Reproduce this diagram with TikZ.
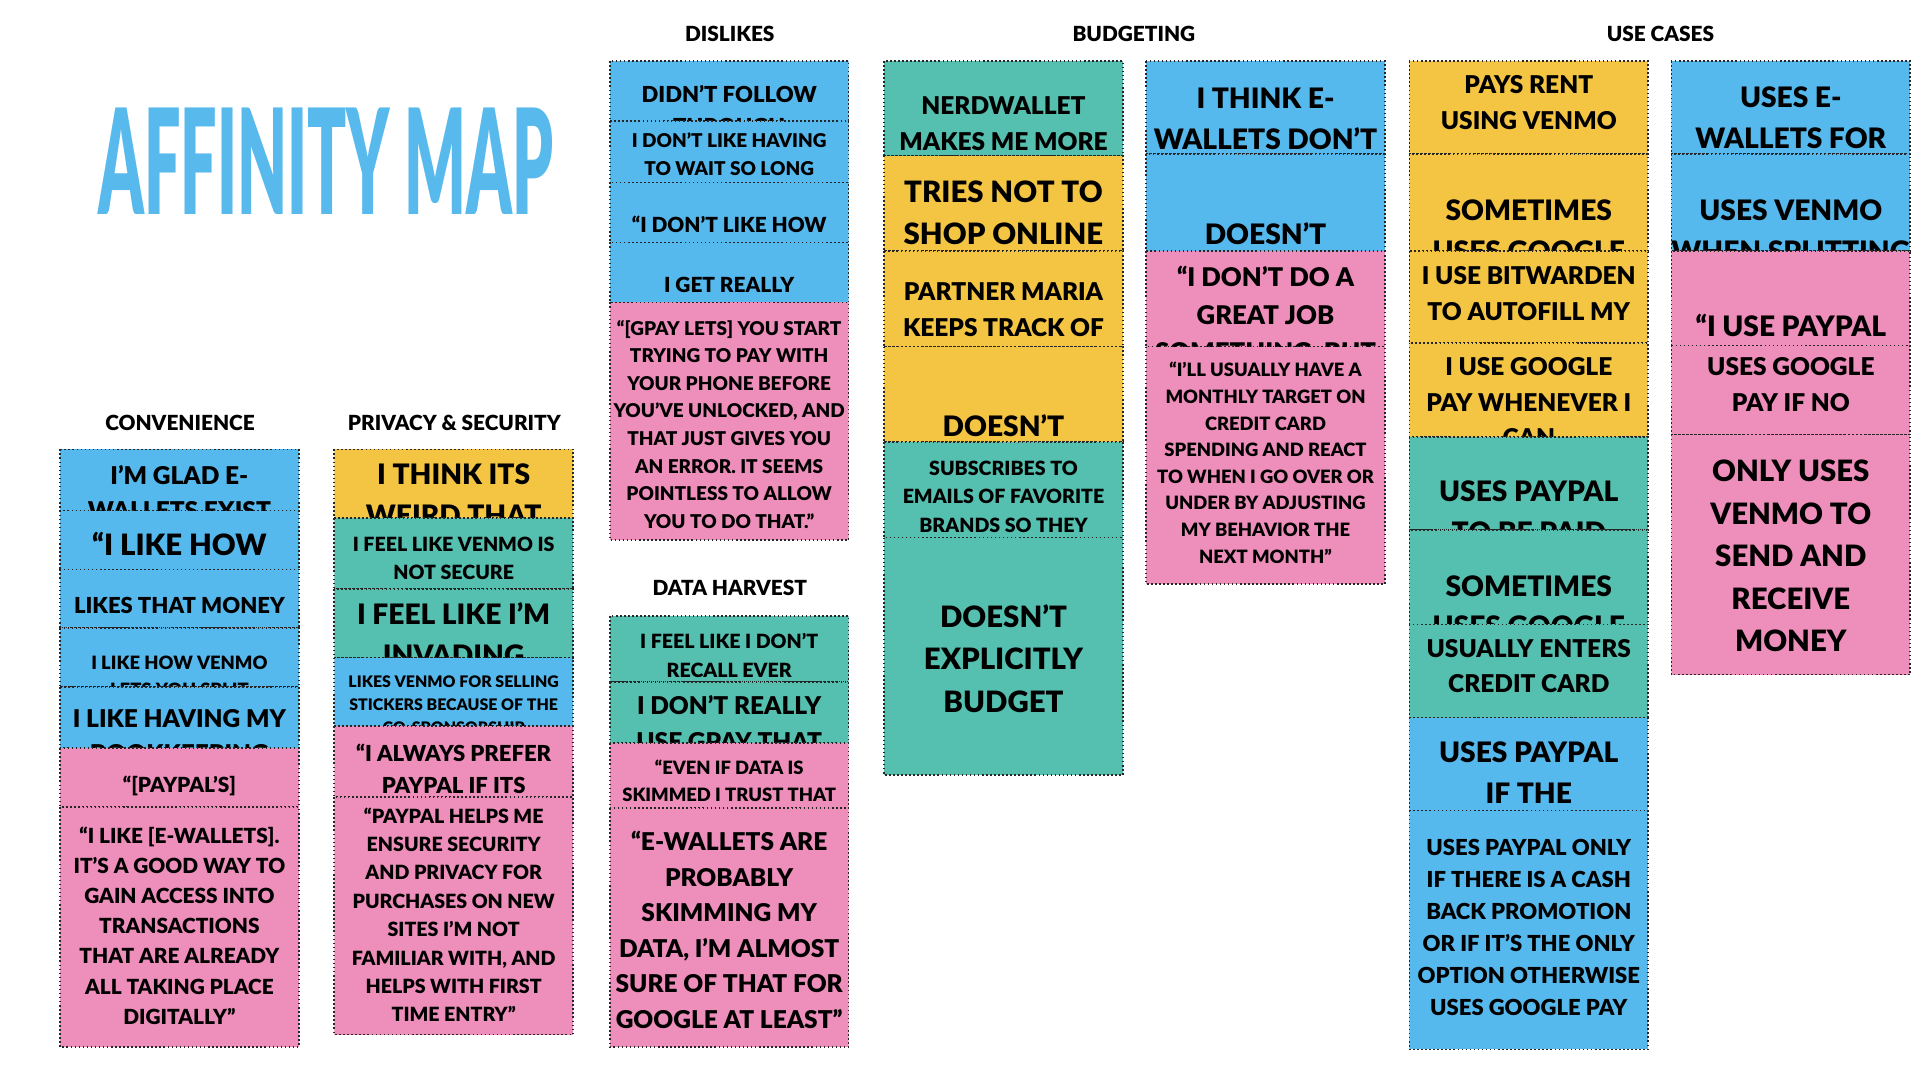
\documentclass[tikz,border=0pt]{standalone}
\usepackage{fontspec}
\setmainfont{Lato}[BoldFont=* Black]
\usepackage{graphicx}
\definecolor{noteblue}{HTML}{56B9EE}
\definecolor{noteyellow}{HTML}{F4C542}
\definecolor{noteteal}{HTML}{55C0B0}
\definecolor{notepink}{HTML}{EE8EBB}
\definecolor{titleblue}{HTML}{58B9EC}
\tikzset{
  notetext/.style={inner sep=0pt, align=center, anchor=north, text=black},
  noteedge/.style={draw=black!85, dotted, line width=1.3pt},
  header/.style={inner sep=0pt, font=\bfseries\fontsize{17pt}{20pt}\selectfont}
}
% #1 name, #2 left x, #3 top y, #4 bottom y, #5 colour, #6 font size, #7 centre of first line, #8 text
\newcommand\sticky[8]{%
  \begin{scope}
    \clip (#2,#3) rectangle ({#2+195},#4);
    \fill[#5] (#2,#3) rectangle ({#2+195},#4);
    \node[notetext, font=\bfseries\fontsize{#6pt}{1.45\dimexpr#6pt\relax}\selectfont]
      (#1) at ({#2+97.5},{#7-0.36*#6}) {#8};
  \end{scope}
  \draw[noteedge] (#2,#3) rectangle ({#2+195},#4);
}
\begin{document}
\begin{tikzpicture}[x=1pt, y=-1pt]
\useasboundingbox (0,0) rectangle (1568,882);

% Title
\node[inner sep=0pt, anchor=north west, text=titleblue] (title) at (80,88)
  {\resizebox{372pt}{87pt}{\bfseries AFFINITY MAP}};

% Headers
\node[header] (hconv) at (147,345) {CONVENIENCE};
\node[header] (hpriv) at (371,345) {PRIVACY \& SECURITY};
\node[header] (hdis) at (596,28) {DISLIKES};
\node[header] (hdata) at (596,480) {DATA HARVEST};
\node[header] (hbud) at (926,28) {BUDGETING};
\node[header] (huse) at (1356,28) {USE CASES};

% Convenience
\sticky{c1}{49}{367}{417}{noteblue}{20}{387}{I’M GLAD E-\\WALLETS EXIST}
\sticky{c2}{49}{417}{465}{noteblue}{24}{443}{“I LIKE HOW\\THEY}
\sticky{c3}{49}{465}{513}{noteblue}{18}{494}{LIKES THAT MONEY}
\sticky{c4}{49}{513}{561}{noteblue}{15}{541}{I LIKE HOW VENMO\\LETS YOU SPLIT}
\sticky{c5}{49}{561}{611}{noteblue}{20}{586}{I LIKE HAVING MY\\BOOKKEEPING}
\sticky{c6}{49}{611}{659}{notepink}{17}{640}{“[PAYPAL’S]}
\sticky{c7}{49}{659}{855}{notepink}{17}{681}{“I LIKE [E-WALLETS].\\IT’S A GOOD WAY TO\\GAIN ACCESS INTO\\TRANSACTIONS\\THAT ARE ALREADY\\ALL TAKING PLACE\\DIGITALLY”}

% Privacy & security
\sticky{p1}{273}{367}{423}{noteyellow}{23}{387}{I THINK ITS\\WEIRD THAT}
\sticky{p2}{273}{423}{481}{noteteal}{16}{444}{I FEEL LIKE VENMO IS\\NOT SECURE}
\sticky{p3}{273}{481}{537}{noteteal}{23}{500}{I FEEL LIKE I’M\\INVADING}
\sticky{p4}{273}{537}{593}{noteblue}{13}{556}{LIKES VENMO FOR SELLING\\STICKERS BECAUSE OF THE\\CO-SPONSORSHIP}
\sticky{p5}{273}{593}{651}{notepink}{18}{614}{“I ALWAYS PREFER\\PAYPAL IF ITS}
\sticky{p6}{273}{651}{845}{notepink}{16}{665}{“PAYPAL HELPS ME\\ENSURE SECURITY\\AND PRIVACY FOR\\PURCHASES ON NEW\\SITES I’M NOT\\FAMILIAR WITH, AND\\HELPS WITH FIRST\\TIME ENTRY”}

% Dislikes
\sticky{d1}{498}{50}{99}{noteblue}{18}{76}{DIDN’T FOLLOW\\THROUGH}
\sticky{d2}{498}{99}{149}{noteblue}{15.5}{114}{I DON’T LIKE HAVING\\TO WAIT SO LONG}
\sticky{d3}{498}{149}{198}{noteblue}{17}{182}{“I DON’T LIKE HOW}
\sticky{d4}{498}{198}{247}{noteblue}{17}{232}{I GET REALLY}
\sticky{d5}{498}{247}{441}{notepink}{15.5}{267}{“[GPAY LETS] YOU START\\TRYING TO PAY WITH\\YOUR PHONE BEFORE\\YOU’VE UNLOCKED, AND\\THAT JUST GIVES YOU\\AN ERROR. IT SEEMS\\POINTLESS TO ALLOW\\YOU TO DO THAT.”}

% Data harvest
\sticky{h1}{498}{503}{557}{noteteal}{16}{523}{I FEEL LIKE I DON’T\\RECALL EVER}
\sticky{h2}{498}{557}{607}{noteteal}{20}{575}{I DON’T REALLY\\USE GPAY THAT}
\sticky{h3}{498}{607}{660}{notepink}{15}{626}{“EVEN IF DATA IS\\SKIMMED I TRUST THAT}
\sticky{h4}{498}{660}{855}{notepink}{20}{686}{“E-WALLETS ARE\\PROBABLY\\SKIMMING MY\\DATA, I’M ALMOST\\SURE OF THAT FOR\\GOOGLE AT LEAST”}

% Budgeting
\sticky{b1}{722}{50}{127}{noteteal}{20}{86}{NERDWALLET\\MAKES ME MORE}
\sticky{b2}{722}{127}{205}{noteyellow}{24}{156}{TRIES NOT TO\\SHOP ONLINE}
\sticky{b3}{722}{205}{283}{noteyellow}{20}{238}{PARTNER MARIA\\KEEPS TRACK OF}
\sticky{b4}{722}{283}{361}{noteyellow}{23}{347}{DOESN’T}
\sticky{b5}{722}{361}{439}{noteteal}{16}{382}{SUBSCRIBES TO\\EMAILS OF FAVORITE\\BRANDS SO THEY}
\sticky{b6}{722}{439}{633}{noteteal}{24}{502}{DOESN’T\\EXPLICITLY\\BUDGET}
\sticky{b7}{936}{50}{126}{noteblue}{23}{80}{I THINK E-\\WALLETS DON’T}
\sticky{b8}{936}{126}{205}{noteblue}{23}{190}{DOESN’T}
\sticky{b9}{936}{205}{283}{notepink}{21}{225}{“I DON’T DO A\\GREAT JOB\\SOMETHING, BUT}
\sticky{b10}{936}{283}{477}{notepink}{15}{301}{“I’LL USUALLY HAVE A\\MONTHLY TARGET ON\\CREDIT CARD\\SPENDING AND REACT\\TO WHEN I GO OVER OR\\UNDER BY ADJUSTING\\MY BEHAVIOR THE\\NEXT MONTH”}

% Use cases
\sticky{u1}{1151}{50}{126}{noteyellow}{20}{69}{PAYS RENT\\USING VENMO}
\sticky{u2}{1151}{126}{205}{noteyellow}{23}{171}{SOMETIMES\\USES GOOGLE}
\sticky{u3}{1151}{205}{280}{noteyellow}{20}{225}{I USE BITWARDEN\\TO AUTOFILL MY}
\sticky{u4}{1151}{280}{357}{noteyellow}{20}{299}{I USE GOOGLE\\PAY WHENEVER I\\CAN}
\sticky{u5}{1151}{357}{433}{noteteal}{23}{401}{USES PAYPAL\\TO BE PAID}
\sticky{u6}{1151}{433}{510}{noteteal}{23}{478}{SOMETIMES\\USES GOOGLE}
\sticky{u7}{1151}{510}{586}{noteteal}{20}{529}{USUALLY ENTERS\\CREDIT CARD}
\sticky{u8}{1151}{586}{662}{noteblue}{23}{614}{USES PAYPAL\\IF THE}
\sticky{u9}{1151}{662}{857}{noteblue}{18}{692}{USES PAYPAL ONLY\\IF THERE IS A CASH\\BACK PROMOTION\\OR IF IT’S THE ONLY\\OPTION OTHERWISE\\USES GOOGLE PAY}
\sticky{u10}{1365}{50}{126}{noteblue}{23}{79}{USES E-\\WALLETS FOR}
\sticky{u11}{1365}{126}{205}{noteblue}{23}{171}{USES VENMO\\WHEN SPLITTING}
\sticky{u12}{1365}{205}{282}{notepink}{23}{265}{“I USE PAYPAL}
\sticky{u13}{1365}{282}{355}{notepink}{20}{299}{USES GOOGLE\\PAY IF NO}
\sticky{u14}{1365}{355}{551}{notepink}{24}{384}{ONLY USES\\VENMO TO\\SEND AND\\RECEIVE\\MONEY}
\end{tikzpicture}
\end{document}
